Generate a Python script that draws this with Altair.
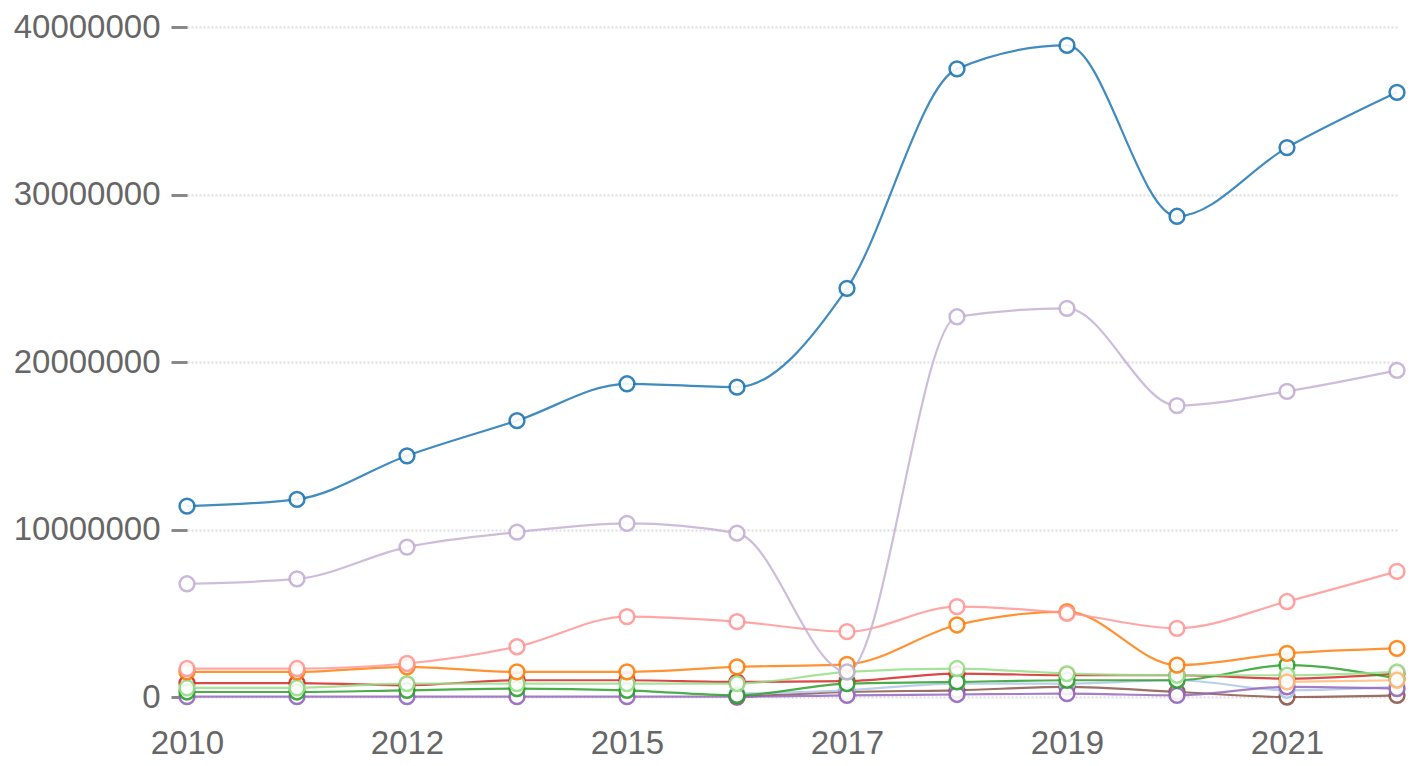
import altair as alt
import pandas as pd

years = ["2010", "2011", "2012", "2014", "2015", "2016", "2017", "2018", "2019", "2020", "2021", "2022"]
label_years = ["2010", "2012", "2015", "2017", "2019", "2021"]

series_names = ["S1", "S2", "S3", "S4", "S5", "S6", "S7", "S8", "S9", "S10", "S11"]
series_colors = ["#1f77b4", "#aec7e8", "#ff7f0e", "#ffbb78", "#2ca02c", "#98df8a",
                 "#d62728", "#ff9896", "#9467bd", "#c5b0d5", "#8c564b"]

# values in millions (None = no data)
s1 = [11.4, 11.8, 14.4, 16.5, 18.7, 18.5, 24.4, 37.5, 38.9, 28.7, 32.8, 36.1]
s2 = [None, None, None, None, None, 0.2, 0.4, 0.8, 0.8, 1.0, 0.4, 0.6]
s3 = [1.5, 1.5, 1.8, 1.5, 1.5, 1.8, 1.95, 4.3, 5.1, 1.9, 2.6, 2.9]
s4 = [None, None, None, None, None, None, None, None, None, None, 0.9, 1.0]
s5 = [0.3, 0.3, 0.4, 0.5, 0.4, 0.1, 0.8, 0.9, 1.0, 1.0, 1.9, 1.1]
s6 = [0.55, 0.55, 0.8, 0.8, 0.8, 0.8, 1.5, 1.7, 1.4, 1.3, 1.3, 1.5]
s7 = [0.83, 0.83, 0.7, 1.0, 1.0, 0.9, 0.95, 1.4, 1.3, 1.3, 1.1, 1.4]
s8 = [1.7, 1.7, 2.0, 3.0, 4.8, 4.5, 3.9, 5.4, 5.0, 4.1, 5.7, 7.5]
s9 = [0.02, 0.02, 0.02, 0.02, 0.02, 0.02, 0.1, 0.15, 0.2, 0.1, 0.6, 0.5]
s10 = [6.76, 7.05, 8.95, 9.84, 10.37, 9.78, 1.5, 22.7, 23.2, 17.4, 18.25, 19.5]
s11 = [None, None, None, None, None, 0.0, 0.3, 0.4, 0.6, 0.3, 0.0, 0.1]

series_values = dict(zip(series_names, [s1, s2, s3, s4, s5, s6, s7, s8, s9, s10, s11]))
# drawing order (first drawn = bottom)
draw_order = ["S7", "S11", "S2", "S9", "S5", "S6", "S4", "S3", "S8", "S10", "S1"]

rows = []
for name in draw_order:
    for yr, v in zip(years, series_values[name]):
        if v is not None:
            rows.append({"year": yr, "series": name, "value": round(v * 1_000_000)})
df = pd.DataFrame(rows)

base = alt.Chart(df).encode(
    x=alt.X(
        "year:O",
        sort=years,
        scale=alt.Scale(type="point", padding=0),
        axis=alt.Axis(
            values=label_years, labelAngle=0, title=None, ticks=False, domain=False,
            grid=False, labelFontSize=33, labelColor="#666666", labelPadding=30,
        ),
    ),
    y=alt.Y(
        "value:Q",
        scale=alt.Scale(domain=[0, 40000000], nice=False),
        axis=alt.Axis(
            values=[0, 10000000, 20000000, 30000000, 40000000], format="d", title=None,
            domain=False, tickSize=16, tickWidth=3, tickColor="#888888",
            grid=True, gridDash=[2, 2], gridColor="#dddddd", gridWidth=2,
            labelFontSize=33, labelColor="#666666", labelPadding=11,
        ),
    ),
    color=alt.Color("series:N", scale=alt.Scale(domain=series_names, range=series_colors), legend=None),
)

lines = base.mark_line(interpolate="monotone", strokeWidth=2.2, opacity=0.85)
points = base.mark_point(shape="circle", filled=False, fill="white", fillOpacity=1,
                         size=220, strokeWidth=2.5, opacity=0.9)

chart = (
    alt.layer(lines, points)
    .properties(
        width=1210, height=670,
        autosize=alt.AutoSizeParams(type="none"),
        padding={"left": 179, "top": 19, "right": 10, "bottom": 70},
    )
    .configure_axis(labelFont="Liberation Sans")
    .configure_view(stroke=None)
)

chart.save("out.html", embed_options={"renderer": "svg", "actions": False})
